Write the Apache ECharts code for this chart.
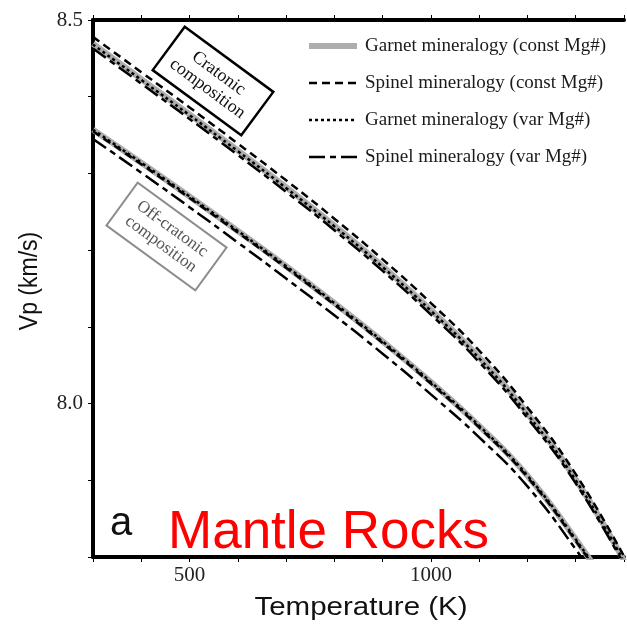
<!DOCTYPE html>
<html>
<head>
<meta charset="utf-8">
<script src="https://cdn.jsdelivr.net/npm/echarts@6/dist/echarts.min.js"></script>
<style>
html,body{margin:0;padding:0;background:#fff;}
#chart{width:627px;height:627px;}
</style>
</head>
<body>
<div id="chart"></div>
<script>
// ---- data ----
const tempK = [300, 400, 500, 600, 700, 800, 900, 1000, 1100, 1200, 1300, 1400];

const cratGarnetConst = [8.469, 8.423, 8.377, 8.330, 8.282, 8.232, 8.179, 8.122, 8.060, 7.987, 7.901, 7.795];
const cratSpinelConst = [8.478, 8.432, 8.386, 8.339, 8.291, 8.241, 8.188, 8.131, 8.069, 7.995, 7.908, 7.801];
const cratGarnetVar   = [8.468, 8.422, 8.376, 8.329, 8.281, 8.231, 8.178, 8.121, 8.059, 7.986, 7.900, 7.794];
const cratSpinelVar   = [8.463, 8.417, 8.371, 8.324, 8.276, 8.226, 8.173, 8.116, 8.054, 7.981, 7.896, 7.790];

const offGarnetConst  = [8.357, 8.314, 8.270, 8.225, 8.179, 8.131, 8.081, 8.028, 7.971, 7.906, 7.823, 7.730];
const offSpinelConst  = [8.355, 8.312, 8.268, 8.223, 8.177, 8.129, 8.079, 8.026, 7.969, 7.904, 7.821, 7.728];
const offGarnetVar    = [8.357, 8.314, 8.270, 8.225, 8.179, 8.131, 8.081, 8.028, 7.971, 7.906, 7.823, 7.730];
const offSpinelVar    = [8.345, 8.301, 8.256, 8.210, 8.163, 8.115, 8.065, 8.012, 7.956, 7.892, 7.810, 7.718];

const seriesNames = [
  'Garnet mineralogy (const Mg#)',
  'Spinel mineralogy (const Mg#)',
  'Garnet mineralogy (var Mg#)',
  'Spinel mineralogy (var Mg#)'
];
const xTickLabels = [500, 1000];
const yTickLabels = [8.0, 8.5];
const boxLabels = ['Cratonic\ncomposition', 'Off-cratonic\ncomposition'];
const xTitle = 'Temperature (K)';
const yTitle = 'Vp (km/s)';
const panelLabel = 'a';
const overlayTitle = 'Mantle Rocks';

// ---- build ----
function pairs(vals) { return tempK.map((t, i) => [t, vals[i]]); }

const styles = [
  { color: '#adadad', width: 6, type: 'solid' },
  { color: '#000', width: 2.5, type: [8, 5] },
  { color: '#000', width: 2.5, type: [3, 3] },
  { color: '#000', width: 2.5, type: [16, 5, 6, 5] }
];
const groups = [
  [cratGarnetConst, offGarnetConst],
  [cratSpinelConst, offSpinelConst],
  [cratGarnetVar, offGarnetVar],
  [cratSpinelVar, offSpinelVar]
];

const series = [];
groups.forEach((g, k) => {
  g.forEach(vals => {
    series.push({
      type: 'line',
      name: seriesNames[k],
      data: pairs(vals),
      smooth: 0.5,
      showSymbol: false,
      symbol: 'none',
      silent: true,
      z: 2 + k,
      lineStyle: { color: styles[k].color, width: styles[k].width, type: styles[k].type, cap: 'butt' },
      itemStyle: { color: styles[k].color }
    });
  });
});

const serif = '"Liberation Serif", "Times New Roman", serif';
const sans = '"Liberation Sans", Arial, sans-serif';

const chart = echarts.init(document.getElementById('chart'), null, { renderer: 'canvas' });
chart.setOption({
  animation: false,
  backgroundColor: '#fff',
  grid: { left: 93, top: 20, right: -5, bottom: 70, containLabel: false },
  legend: {
    data: seriesNames,
    orient: 'vertical',
    left: 306,
    top: 36,
    padding: 0,
    itemWidth: 48,
    itemHeight: 12,
    itemGap: 17,
    selectedMode: false,
    itemStyle: { color: 'rgba(0,0,0,0)', borderWidth: 0, opacity: 0 },
    lineStyle: { width: 'inherit', type: 'inherit' },
    textStyle: { fontFamily: serif, fontSize: 19, color: '#1a1a1a', lineHeight: 20, padding: [0, 0, 0, 3] }
  },
  xAxis: [
    {
      type: 'value', min: 300, max: 1400, interval: 100, position: 'bottom',
      axisLine: { show: true, onZero: false, lineStyle: { color: '#000', width: 4 } },
      axisTick: { show: true, length: 5, inside: false, lineStyle: { color: '#000', width: 1 } },
      axisLabel: {
        show: true, margin: 8, fontFamily: serif, fontSize: 21, color: '#222',
        formatter: v => xTickLabels.includes(Math.round(v)) ? String(Math.round(v)) : ''
      },
      splitLine: { show: false }
    },
    {
      type: 'value', min: 300, max: 1400, interval: 100, position: 'top',
      axisLine: { show: true, onZero: false, lineStyle: { color: '#000', width: 4 } },
      axisTick: { show: true, length: 5, inside: false, lineStyle: { color: '#000', width: 1 } },
      axisLabel: { show: false },
      splitLine: { show: false }
    }
  ],
  yAxis: {
    type: 'value', min: 7.8, max: 8.5, interval: 0.1,
    axisLine: { show: true, onZero: false, lineStyle: { color: '#000', width: 4 } },
    axisTick: { show: true, length: 5, inside: false, lineStyle: { color: '#000', width: 1 } },
    axisLabel: {
      show: true, margin: 10, fontFamily: serif, fontSize: 21, color: '#222',
      formatter: v => {
        const hit = yTickLabels.find(t => Math.abs(t - v) < 1e-6);
        return hit !== undefined ? hit.toFixed(1) : '';
      }
    },
    splitLine: { show: false }
  },
  series: series,
  graphic: [
    {
      type: 'group', x: 213, y: 81, rotation: -0.635, z: 10,
      children: [
        { type: 'rect', shape: { x: -55, y: -27, width: 110, height: 54 },
          style: { fill: '#fff', stroke: '#000', lineWidth: 2.5 } },
        { type: 'text', x: 0, y: 0,
          style: { text: boxLabels[0], fontFamily: serif, fontSize: 18, lineHeight: 19,
                   fill: '#111', align: 'center', verticalAlign: 'middle' } }
      ]
    },
    {
      type: 'group', x: 166.5, y: 236.5, rotation: -0.63, z: 10,
      children: [
        { type: 'rect', shape: { x: -55, y: -26.5, width: 110, height: 53 },
          style: { fill: '#fff', stroke: '#8c8c8c', lineWidth: 2 } },
        { type: 'text', x: 0, y: 0,
          style: { text: boxLabels[1], fontFamily: serif, fontSize: 17, lineHeight: 19,
                   fill: '#555', align: 'center', verticalAlign: 'middle' } }
      ]
    },
    {
      type: 'text', x: 110, y: 524, z: 10,
      style: { text: panelLabel, fontFamily: sans, fontSize: 40, fill: '#111', align: 'left', verticalAlign: 'middle' }
    },
    {
      type: 'text', x: 168, y: 533, z: 10,
      style: { text: overlayTitle, fontFamily: sans, fontSize: 53, fill: '#ff0000', align: 'left', verticalAlign: 'middle' }
    },
    {
      type: 'text', x: 361, y: 608, scaleX: 1.18, z: 10,
      style: { text: xTitle, fontFamily: sans, fontSize: 25, fill: '#111', align: 'center', verticalAlign: 'middle' }
    },
    {
      type: 'text', x: 30, y: 281, rotation: Math.PI / 2, scaleY: 1.15, z: 10,
      style: { text: yTitle, fontFamily: sans, fontSize: 23, fill: '#111', align: 'center', verticalAlign: 'middle' }
    }
  ]
});
</script>
</body>
</html>
